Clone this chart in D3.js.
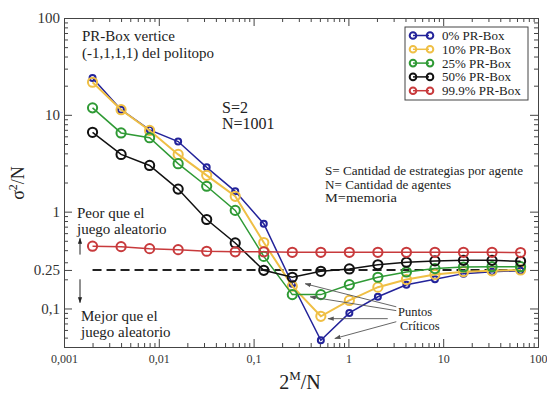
<!DOCTYPE html>
<html>
<head>
<meta charset="utf-8">
<script src="https://cdn.jsdelivr.net/npm/d3@7"></script>
<style>
  html, body { margin: 0; padding: 0; background: #fff; }
  svg text { font-family: "Liberation Serif", "Times New Roman", Times, "DejaVu Serif", serif !important; }
  .axis path, .axis line { stroke: #444; }
  .axis text { fill: #333; }
</style>
</head>
<body>
<div id="chart"></div>
<script>
// x values: 2^M / N for M = 1..16, N = 1001
const xValues = [0.002, 0.004, 0.008, 0.016, 0.032, 0.064, 0.128, 0.256, 0.512, 1.023, 2.046, 4.092, 8.184, 16.37, 32.74, 65.47]

// sigma^2 / N per series
const pr0 = [24, 11.3, 7.0, 5.3, 2.87, 1.62, 0.75, 0.18, 0.047, 0.09, 0.132, 0.176, 0.2, 0.229, 0.24, 0.245]
const pr10 = [21.7, 11.3, 6.9, 3.9, 2.37, 1.44, 0.48, 0.17, 0.083, 0.121, 0.166, 0.199, 0.224, 0.24, 0.245, 0.25]
const pr25 = [11.8, 6.5, 5.8, 3.13, 1.83, 1.03, 0.345, 0.139, 0.139, 0.176, 0.21, 0.238, 0.258, 0.268, 0.27, 0.27]
const pr50 = [6.6, 3.9, 3.0, 1.71, 0.83, 0.475, 0.248, 0.21, 0.242, 0.256, 0.283, 0.3, 0.31, 0.314, 0.314, 0.307]
const pr999 = [0.44, 0.435, 0.415, 0.405, 0.39, 0.385, 0.385, 0.38, 0.38, 0.38, 0.38, 0.38, 0.38, 0.38, 0.38, 0.378]

const seriesNames = ['0% PR-Box', '10% PR-Box', '25% PR-Box', '50% PR-Box', '99.9% PR-Box']
const seriesValues = [pr0, pr10, pr25, pr50, pr999]
const seriesColors = ['#23239a', '#efbf45', '#2f9a35', '#111111', '#c83a3c']
const seriesRadius = [3, 4.6, 4.6, 4.6, 4.6]

const xMajor = [0.001, 0.01, 0.1, 1, 10, 100]
const xMajorLabels = ['0,001', '0,01', '0,1', '1', '10', '100']
const yMajor = [0.1, 0.25, 1, 10, 100]
const yMajorLabels = ['0,1', '0.25', '1', '10', '100']

const randomLevel = 0.25

// critical point arrows: [tailX, tailY, headX, headY] in data units
const criticalArrows = [
  [3.2, 0.104, 0.35, 0.18],
  [3.2, 0.095, 0.395, 0.132],
  [2.6, 0.0785, 0.61, 0.0785],
  [3.2, 0.073, 0.72, 0.049]
]

const serif = '"Liberation Serif", "Times New Roman", Times, serif'
const width = 547
const height = 394
const margin = { top: 18, right: 9, bottom: 47, left: 64 }

const svg = d3.select('#chart').append('svg')
  .attr('width', width)
  .attr('height', height)
  .attr('font-family', serif)

const defs = svg.append('defs')
defs.append('marker')
  .attr('id', 'head')
  .attr('viewBox', '0 0 10 10')
  .attr('refX', 9).attr('refY', 5)
  .attr('markerWidth', 7).attr('markerHeight', 7)
  .attr('orient', 'auto')
  .append('path')
  .attr('d', 'M0,1.5 L10,5 L0,8.5 Z')
  .attr('fill', '#555')
defs.append('marker')
  .attr('id', 'headBlack')
  .attr('viewBox', '0 0 10 10')
  .attr('refX', 9).attr('refY', 5)
  .attr('markerWidth', 6).attr('markerHeight', 6)
  .attr('orient', 'auto')
  .append('path')
  .attr('d', 'M0,1.5 L10,5 L0,8.5 Z')
  .attr('fill', '#222')

const x = d3.scaleLog()
  .domain([0.001, 100])
  .range([margin.left, width - margin.right])

const y = d3.scaleLog()
  .domain([0.04, 100])
  .range([height - margin.bottom, margin.top])

// minor ticks 2..9 in every decade
const minorTicks = (lo, hi) => {
  const out = []
  for (let e = lo; e < hi; e++) {
    for (let k = 2; k <= 9; k++) out.push(k * Math.pow(10, e))
  }
  return out
}
const xMinor = minorTicks(-3, 2)
const yMinor = minorTicks(-2, 2).filter(v => v >= 0.04)

const x0 = margin.left
const x1 = width - margin.right
const y0 = height - margin.bottom
const y1 = margin.top

// bottom axis
svg.append('g').attr('class', 'axis')
  .attr('transform', `translate(0,${y0})`)
  .call(d3.axisBottom(x).tickValues(xMinor).tickSize(-4).tickSizeOuter(0).tickFormat(''))
svg.append('g').attr('class', 'axis')
  .attr('transform', `translate(0,${y0})`)
  .call(d3.axisBottom(x).tickValues(xMajor).tickSize(-8).tickSizeOuter(0).tickPadding(7)
    .tickFormat((d, i) => xMajorLabels[i]))
  .attr('font-family', serif)
  .selectAll('text').style('font-size', '12px')

// top axis
svg.append('g').attr('class', 'axis')
  .attr('transform', `translate(0,${y1})`)
  .call(d3.axisTop(x).tickValues(xMinor).tickSize(-4).tickSizeOuter(0).tickFormat(''))
svg.append('g').attr('class', 'axis')
  .attr('transform', `translate(0,${y1})`)
  .call(d3.axisTop(x).tickValues(xMajor).tickSize(-8).tickSizeOuter(0).tickFormat(''))

// left axis
svg.append('g').attr('class', 'axis')
  .attr('transform', `translate(${x0},0)`)
  .call(d3.axisLeft(y).tickValues(yMinor).tickSize(-4).tickSizeOuter(0).tickFormat(''))
svg.append('g').attr('class', 'axis')
  .attr('transform', `translate(${x0},0)`)
  .call(d3.axisLeft(y).tickValues(yMajor).tickSize(-8).tickSizeOuter(0).tickPadding(4)
    .tickFormat((d, i) => yMajorLabels[i]))
  .attr('font-family', serif)
  .selectAll('text').style('font-size', '15px')

// right axis
svg.append('g').attr('class', 'axis')
  .attr('transform', `translate(${x1},0)`)
  .call(d3.axisRight(y).tickValues(yMinor).tickSize(-4).tickSizeOuter(0).tickFormat(''))
svg.append('g').attr('class', 'axis')
  .attr('transform', `translate(${x1},0)`)
  .call(d3.axisRight(y).tickValues(yMajor).tickSize(-8).tickSizeOuter(0).tickFormat(''))

// random game reference (dashed)
svg.append('line')
  .attr('x1', x(xValues[0])).attr('x2', x(xValues[xValues.length - 1]))
  .attr('y1', y(randomLevel)).attr('y2', y(randomLevel))
  .attr('stroke', '#222').attr('stroke-width', 2)
  .attr('stroke-dasharray', '9,5')

// series
const line = d3.line()
  .x((d, i) => x(xValues[i]))
  .y(d => y(d))

seriesValues.forEach((vals, s) => {
  const g = svg.append('g')
  g.append('path')
    .datum(vals)
    .attr('d', line)
    .attr('fill', 'none')
    .attr('stroke', seriesColors[s])
    .attr('stroke-width', s === 1 ? 2 : 1.5)
  g.selectAll('circle')
    .data(vals)
    .enter()
    .append('circle')
    .attr('cx', (d, i) => x(xValues[i]))
    .attr('cy', d => y(d))
    .attr('r', seriesRadius[s])
    .attr('fill', 'none')
    .attr('stroke', seriesColors[s])
    .attr('stroke-width', 2)
})

// critical point arrows
svg.selectAll('.crit')
  .data(criticalArrows)
  .enter()
  .append('line')
  .attr('class', 'crit')
  .attr('x1', d => x(d[0])).attr('y1', d => y(d[1]))
  .attr('x2', d => x(d[2])).attr('y2', d => y(d[3]))
  .attr('stroke', '#555').attr('stroke-width', 0.9)
  .attr('marker-end', 'url(#head)')

const note = (tx, ty, str, size) => svg.append('text')
  .attr('x', tx).attr('y', ty)
  .attr('font-family', serif)
  .style('font-size', size + 'px')
  .attr('fill', '#222')
  .text(str)

note(398, 316, 'Puntos', 12.5)
note(400, 330, 'Críticos', 12.5)

// better / worse than random
svg.append('line')
  .attr('x1', 80).attr('x2', 80)
  .attr('y1', y(0.36)).attr('y2', y(0.53))
  .attr('stroke', '#222').attr('stroke-width', 1)
  .attr('marker-end', 'url(#headBlack)')
svg.append('line')
  .attr('x1', 80).attr('x2', 80)
  .attr('y1', y(0.2)).attr('y2', y(0.115))
  .attr('stroke', '#222').attr('stroke-width', 1)
  .attr('marker-end', 'url(#headBlack)')

note(77, 218, 'Peor que el', 15)
note(77, 234, 'juego aleatorio', 15)
note(81, 321, 'Mejor que el', 15)
note(81, 337, 'juego aleatorio', 15)

note(82, 41, 'PR-Box vertice', 15)
note(82, 58, '(-1,1,1,1) del politopo', 15)

note(222, 113, 'S=2', 16)
note(222, 129, 'N=1001', 16)

note(325, 175, 'S= Cantidad de estrategias por agente', 11.5)
  .attr('textLength', 198).attr('lengthAdjust', 'spacingAndGlyphs')
note(325, 188.5, 'N= Cantidad de agentes', 11.5)
  .attr('textLength', 126).attr('lengthAdjust', 'spacingAndGlyphs')
note(325, 202, 'M=memoria', 11.5)
  .attr('textLength', 72).attr('lengthAdjust', 'spacingAndGlyphs')

// legend
const legend = svg.append('g').attr('transform', 'translate(405,27)')
legend.append('rect')
  .attr('width', 123).attr('height', 73)
  .attr('fill', '#fff').attr('stroke', '#444').attr('stroke-width', 1)
const item = legend.selectAll('.item')
  .data(seriesNames)
  .enter()
  .append('g')
  .attr('transform', (d, i) => `translate(0,${8.5 + i * 13.8})`)
item.append('line')
  .attr('x1', 8).attr('x2', 24)
  .attr('stroke', (d, i) => seriesColors[i]).attr('stroke-width', 1.5)
item.append('circle').attr('cx', 8).attr('r', 3.3)
  .attr('fill', 'none').attr('stroke', (d, i) => seriesColors[i]).attr('stroke-width', 2)
item.append('circle').attr('cx', 25).attr('r', 3.3)
  .attr('fill', 'none').attr('stroke', (d, i) => seriesColors[i]).attr('stroke-width', 2)
item.append('text')
  .attr('x', 37).attr('y', 4.5)
  .attr('font-family', serif)
  .style('font-size', '13px').attr('fill', '#222')
  .text(d => d)

// axis titles
const yTitle = svg.append('text')
  .attr('transform', 'translate(24,183) rotate(-90)')
  .attr('text-anchor', 'middle')
  .attr('font-family', serif)
  .style('font-size', '18px').attr('fill', '#222')
yTitle.append('tspan').text('σ')
yTitle.append('tspan').attr('dy', -7).style('font-size', '12px').text('2')
yTitle.append('tspan').attr('dy', 7).text('/N')

const xTitle = svg.append('text')
  .attr('x', 300).attr('y', 389)
  .attr('text-anchor', 'middle')
  .attr('font-family', serif)
  .style('font-size', '20px').attr('fill', '#222')
xTitle.append('tspan').text('2')
xTitle.append('tspan').attr('dy', -9).style('font-size', '13px').text('M')
xTitle.append('tspan').attr('dy', 9).text('/N')
</script>
</body>
</html>
